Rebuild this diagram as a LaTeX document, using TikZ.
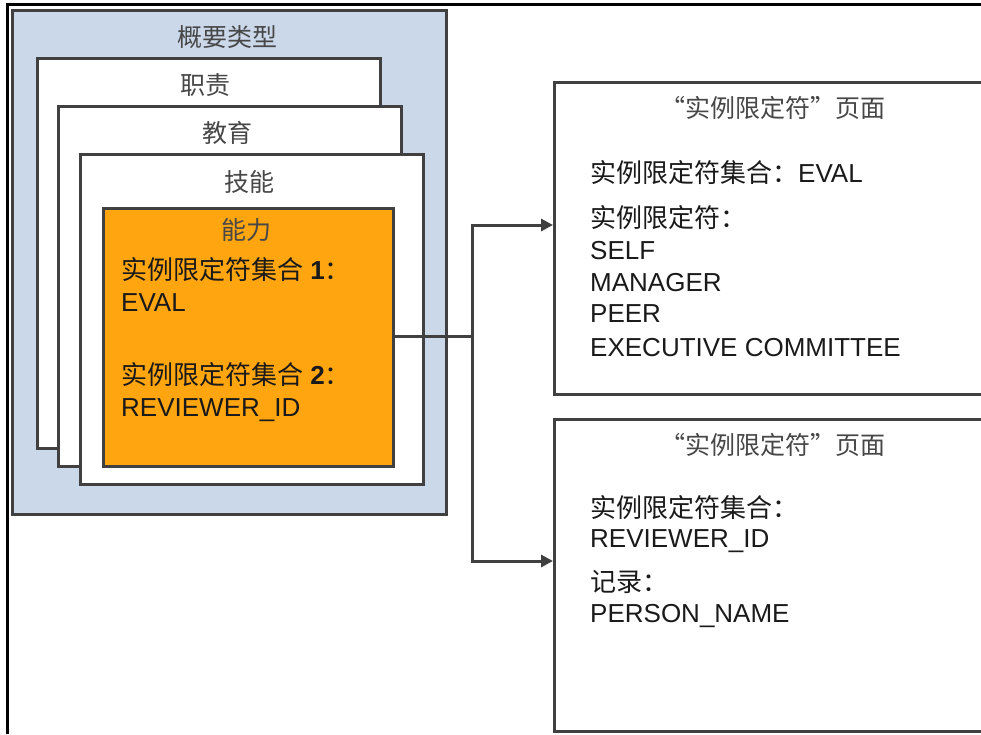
\documentclass[tikz,border=0pt]{standalone}
\usepackage{fontspec}
\setmainfont{Liberation Sans}
\newfontfamily\cjk{Noto Sans CJK SC}
\usetikzlibrary{arrows.meta}
\definecolor{edge}{HTML}{404040}
\definecolor{bluefill}{HTML}{CBD8EA}
\definecolor{orangefill}{HTML}{FFA50F}
\definecolor{txt}{HTML}{1A1A1A}
\definecolor{ttl}{HTML}{474747}
\begin{document}
\begin{tikzpicture}[x=1pt,y=-1pt,
  box/.style={draw=edge,line width=2.6pt,rectangle,inner sep=0pt,anchor=north west},
  titletext/.style={anchor=base,inner sep=0pt,font=\cjk\fontsize{25}{30}\selectfont,text=ttl},
  linetext/.style={anchor=base west,inner sep=0pt,font=\fontsize{26}{32}\selectfont,text=txt},
  conn/.style={draw=edge,line width=3pt},
  arr/.style={conn,-{Triangle[length=12pt,width=12pt]}}]
\useasboundingbox (0,0) rectangle (981,734);
\clip (0,0) rectangle (981,734);
\fill[white] (0,0) rectangle (981,734);
% outer frame
\draw[black,line width=3pt] (7.5,734) -- (7.5,4) -- (990,4);
% left nested boxes
\node[box,fill=bluefill,minimum width=434pt,minimum height=504pt] (overview) at (11,9) {};
\node[box,fill=white,minimum width=343pt,minimum height=390pt] (duty) at (36,57) {};
\node[box,fill=white,minimum width=343pt,minimum height=360pt] (edu) at (57,105) {};
\node[box,fill=white,minimum width=343pt,minimum height=330pt] (skill) at (79,153) {};
\node[box,fill=orangefill,minimum width=290pt,minimum height=258pt] (cap) at (102,207) {};
\node[titletext] (tOverview) at (227,46.5) {概要类型};
\node[titletext] (tDuty) at (205,94.5) {职责};
\node[titletext] (tEdu) at (227,142.5) {教育};
\node[titletext] (tSkill) at (249,191.5) {技能};
\node[titletext] (tCap) at (246,239.5) {能力};
\node[linetext] (c1) at (121,279.5) {{\cjk 实例限定符集合} \textbf{1}{\cjk ：}};
\node[linetext] (c2) at (121,311.5) {EVAL};
\node[linetext] (c3) at (121,384.5) {{\cjk 实例限定符集合} \textbf{2}{\cjk ：}};
\node[linetext] (c4) at (121,416.5) {REVIEWER\_ID};
% right boxes
\node[box,fill=white,minimum width=460pt,minimum height=312pt] (page1) at (553,81) {};
\node[box,fill=white,minimum width=460pt,minimum height=312pt] (page2) at (553,418) {};
\node[titletext] (tPage1) at (773,117.5) {“实例限定符”页面};
\node[titletext] (tPage2) at (773,454.5) {“实例限定符”页面};
\node[linetext] (p1a) at (590,182.5) {{\cjk 实例限定符集合：}EVAL};
\node[linetext] (p1b) at (590,227.5) {{\cjk 实例限定符：}};
\node[linetext] (p1c) at (590,259.5) {SELF};
\node[linetext] (p1d) at (590,291.5) {MANAGER};
\node[linetext] (p1e) at (590,322.5) {PEER};
\node[linetext] (p1f) at (590,356.5) {EXECUTIVE COMMITTEE};
\node[linetext] (p2a) at (590,517.5) {{\cjk 实例限定符集合：}};
\node[linetext] (p2b) at (590,547.5) {REVIEWER\_ID};
\node[linetext] (p2c) at (590,591.5) {{\cjk 记录：}};
\node[linetext] (p2d) at (590,622.5) {PERSON\_NAME};
% connectors
\coordinate (junc) at (472,336);
\coordinate (up) at (472,225);
\coordinate (down) at (472,561);
\draw[conn] (cap.east |- junc) -- (junc);
\draw[conn,line cap=rect] (up) -- (down);
\draw[arr] (up) -- (page1.west |- up);
\draw[arr] (down) -- (page2.west |- down);
\end{tikzpicture}
\end{document}
